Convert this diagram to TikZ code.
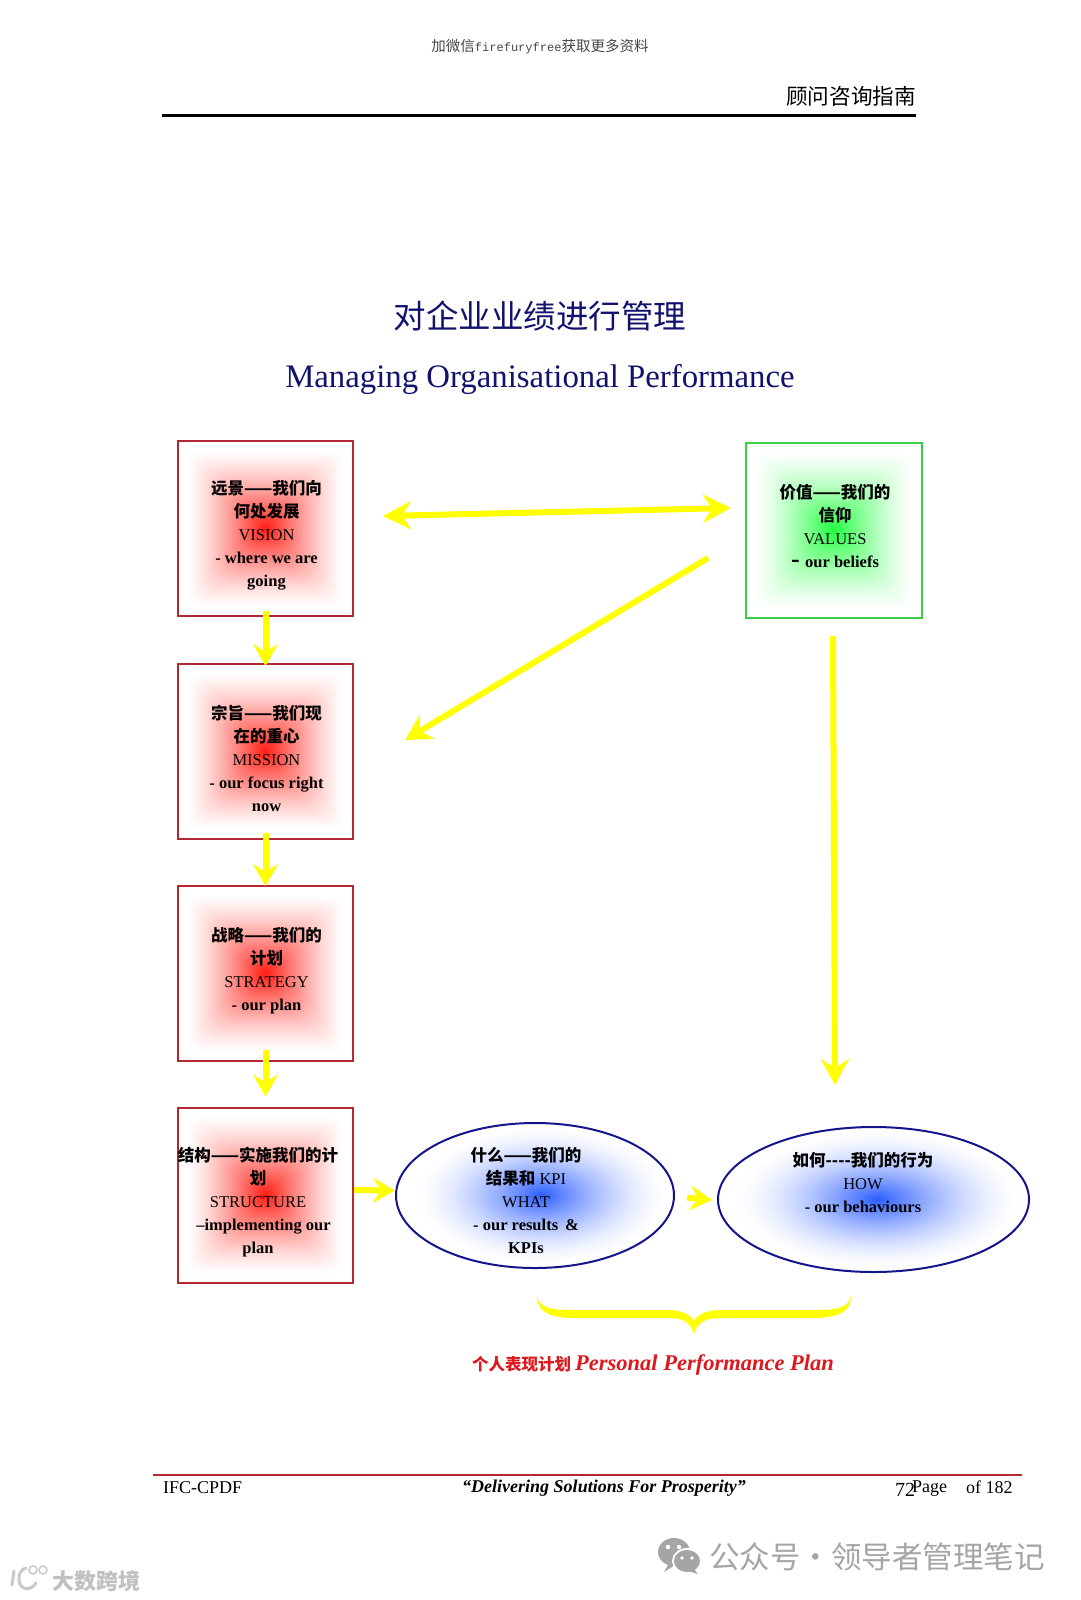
\documentclass[tikz,border=0pt]{standalone}
\usepackage{fontspec}
\setmainfont{Liberation Serif}
\newfontfamily\cjk{Noto Sans CJK SC}
\newfontfamily\monolat[Scale=0.83]{Liberation Mono}
\usetikzlibrary{arrows.meta,shapes.geometric}
\definecolor{navyt}{RGB}{18,18,110}
\definecolor{redline}{RGB}{180,40,50}
\definecolor{greenline}{RGB}{60,205,70}
\definecolor{blueline}{RGB}{20,20,140}
\definecolor{glowred}{RGB}{255,25,15}
\definecolor{glowgreen}{RGB}{30,255,60}
\definecolor{glowblue}{RGB}{40,90,255}
\definecolor{arrowy}{RGB}{255,255,0}
\definecolor{wm}{RGB}{165,165,165}
\definecolor{footred}{RGB}{180,40,50}
\newcommand{\zh}[1]{{\cjk #1}}
\newcommand{\glowrect}[5]{%
  \foreach \i in {40,39,...,1}{%
    \pgfmathsetmacro{\fa}{\i/40*#3}%
    \pgfmathsetmacro{\fb}{\i/40*#4}%
    \pgfmathsetmacro{\fm}{100*(1-\i/40)^1.35}%
    \pgfmathsetmacro{\fr}{\fa*(0.1+0.7*(1-\i/40))}%
    \fill[#5!\fm!white,rounded corners=\fr pt] (#1-\fa,#2-\fb) rectangle (#1+\fa,#2+\fb);
  }}
\newcommand{\glowell}[5]{%
  \foreach \i in {40,39,...,1}{%
    \pgfmathsetmacro{\fa}{\i/40*#3}%
    \pgfmathsetmacro{\fb}{\i/40*#4}%
    \pgfmathsetmacro{\fm}{100*(1-\i/40)^1.6}%
    \fill[#5!\fm!white] (#1,#2) ellipse [x radius=\fa,y radius=\fb];
  }}
\tikzset{
  redbox/.style={rectangle,draw=redline,line width=2pt,minimum width=175pt,minimum height=175pt,inner sep=0pt},
  greenbox/.style={rectangle,draw=greenline,line width=2pt,minimum width=176pt,minimum height=175pt,inner sep=0pt},
  blueell/.style={ellipse,draw=blueline,line width=2pt,inner sep=0pt},
  body/.style={align=center,inner sep=0pt,font=\fontsize{16.5}{23}\selectfont\bfseries,text=black},
  yarrow/.style={draw=arrowy,line width=6pt,-{Stealth[length=26pt,width=28pt,inset=9pt]}},
  ydouble/.style={draw=arrowy,line width=6pt,{Stealth[length=28pt,width=28pt,inset=9pt]}-{Stealth[length=28pt,width=28pt,inset=9pt]}},
  yshort/.style={draw=arrowy,line width=6pt,-{Stealth[length=22pt,width=25pt,inset=8pt]}},
  plain/.style={inner sep=0pt,text=black}
}
\begin{document}
\begin{tikzpicture}[x=1pt,y=-1pt]
\useasboundingbox (0,0) rectangle (1080,1600);
\fill[white] (0,0) rectangle (1080,1600);

% header
\node[plain,text={rgb,255:red,70;green,70;blue,70}] (topnote) at (540,47) {\fontsize{14.5}{16}\selectfont\zh{加微信}{\monolat firefuryfree}\zh{获取更多资料}};
\node[plain,anchor=east] (guide) at (916,96) {\fontsize{21.6}{24}\selectfont\zh{顾问咨询指南}};
\coordinate (hl) at (162,116);
\coordinate (hr) at (916,116);
\draw[line width=3pt,black] (hl) -- (hr);

% titles
\node[plain,text=navyt] (titlezh) at (540,316) {\fontsize{32.5}{36}\selectfont\zh{对企业业绩进行管理}};
\node[plain,text=navyt] (titleen) at (540,379) {\fontsize{32.8}{38}\selectfont Managing Organisational Performance};

% glows
\glowrect{265.5}{528.5}{80}{80}{glowred}
\glowrect{265.5}{751.5}{80}{80}{glowred}
\glowrect{265.5}{973.5}{80}{80}{glowred}
\glowrect{265.5}{1195}{80}{80}{glowred}
\glowrect{834}{530.5}{80}{80}{glowgreen}
\glowell{542}{1195.5}{128}{70}{glowblue}
\glowell{878}{1199.5}{145}{70}{glowblue}

% shapes
\node[redbox] (vision) at (265.5,528.5) {};
\node[redbox] (mission) at (265.5,751.5) {};
\node[redbox] (strategy) at (265.5,973.5) {};
\node[redbox] (structure) at (265.5,1195) {};
\node[greenbox] (values) at (834,530.5) {};
\node[blueell,minimum width=278pt,minimum height=145pt] (what) at (535,1195.5) {};
\node[blueell,minimum width=311pt,minimum height=145pt] (how) at (873.5,1199.5) {};

% texts
\node[body] (visiont) at (266.5,535.5) {\zh{远景——我们向}\\\zh{何处发展}\\{\mdseries VISION}\\- where we are\\going};
\node[body] (missiont) at (266.5,758) {\zh{宗旨——我们现}\\\zh{在的重心}\\{\mdseries MISSION}\\- our focus right\\now};
\node[body] (strategyt) at (266.5,970.5) {\zh{战略——我们的}\\\zh{计划}\\{\mdseries STRATEGY}\\- our plan};
\node[body] (structuret) at (258,1202.5) {\zh{结构——实施我们的计}\\\zh{划}\\{\mdseries STRUCTURE}\\\hspace*{11pt}–implementing our\\plan};
\node[body] (valuest) at (835,526) {\zh{价值——我们的}\\\zh{信仰}\\{\mdseries VALUES}\\{\fontsize{26}{23}\selectfont -}\,\,our beliefs};
\node[body] (whatt) at (526,1200.5) {\zh{什么——我们的}\\\zh{结果和} {\mdseries KPI}\\{\mdseries WHAT}\\- our results \,\&\\KPIs};
\node[body] (howt) at (863,1182.5) {\zh{如何----我们的行为}\\{\mdseries HOW}\\- our behaviours};

% connectors
\coordinate (hL) at (383,516);
\coordinate (hR) at (731,508);
\draw[ydouble] (hL) -- (hR);
\coordinate (dS) at (708,558);
\coordinate (dE) at (405,740);
\draw[yarrow] (dS) -- (dE);
\coordinate (vS) at (833,636);
\coordinate (vE) at (835,1085);
\draw[yarrow] (vS) -- (vE);
\draw[yshort,shorten <=-6pt,shorten >=-3pt] (vision.south) -- (mission.north);
\draw[yshort,shorten <=-7pt,shorten >=-1pt] (mission.south) -- (strategy.north);
\draw[yshort,shorten <=-12pt,shorten >=10pt] (strategy.south) -- (structure.north);
\draw[yshort] ([yshift=5pt]structure.east) -- ([yshift=5pt]what.west);
\draw[yshort,shorten <=12pt,shorten >=5pt] ([yshift=-1pt]what.east) -- ([yshift=-1pt]how.west);

% brace
\fill[arrowy] (537,1296) .. controls (540,1309) and (552,1310) .. (575,1310)
  -- (668,1310) .. controls (682,1310) and (691,1315) .. (694,1321)
  .. controls (697,1315) and (706,1310) .. (720,1310)
  -- (812,1310) .. controls (835,1310) and (848,1309) .. (851,1296)
  .. controls (851,1312) and (838,1318) .. (812,1318)
  -- (720,1318) .. controls (707,1318) and (698,1321) .. (694,1334)
  .. controls (690,1321) and (681,1318) .. (668,1318)
  -- (575,1318) .. controls (550,1318) and (537,1312) .. (537,1296) -- cycle;

\node[plain,text={rgb,255:red,220;green,25;blue,30}] (plan) at (653,1365) {\fontsize{16.5}{20}\selectfont\bfseries\zh{个人表现计划} \fontsize{22.5}{24}\selectfont\itshape Personal Performance Plan};

% footer
\coordinate (fl) at (153,1475);
\coordinate (fr) at (1022,1475);
\draw[line width=2.5pt,footred] (fl) -- (fr);
\node[plain,anchor=west] (foot1) at (163,1488) {\fontsize{18}{20}\selectfont IFC-CPDF};
\node[plain] (foot2) at (604,1488) {\fontsize{18}{20}\selectfont\itshape\bfseries “Delivering Solutions For Prosperity”};
\node[plain,anchor=west] (foot3) at (895,1490) {\fontsize{20}{22}\selectfont 72};
\node[plain,anchor=west] (foot4) at (912,1489) {\fontsize{18}{20}\selectfont Page};
\node[plain,anchor=west] (foot5) at (966,1487) {\fontsize{18}{20}\selectfont of 182};

% watermarks
\fill[wm] (674,1552) ellipse [x radius=16,y radius=14];
\fill[wm] (668,1565) -- (664,1572) -- (675,1565) -- cycle;
\fill[white] (687,1561) ellipse [x radius=15,y radius=13];
\fill[wm] (687,1561) ellipse [x radius=13,y radius=11];
\fill[wm] (694,1569) -- (698,1574) -- (688,1571) -- cycle;
\fill[white] (668,1547) circle (2.2) (679,1547) circle (2.2) (682,1558) circle (1.8) (692,1558) circle (1.8);
\node[plain,text=wm,anchor=west] (wmtext) at (709,1557) {\fontsize{30.5}{34}\selectfont\zh{公众号·领导者管理笔记}};
\draw[wm!60,line width=3pt,line cap=round] (14,1571) -- (12,1585);
\draw[wm!60,line width=3pt,line cap=round] (36,1583) .. controls (30,1592) and (20,1590) .. (19,1580) .. controls (18,1573) and (22,1569) .. (26,1568);
\draw[wm!60,line width=1.5pt] (33,1570) circle (4) (43,1570) circle (4);
\node[plain,text=wm!70,anchor=west] (wmleft) at (52,1581) {\fontsize{22}{24}\selectfont\bfseries\zh{大数跨境}};
\end{tikzpicture}
\end{document}
